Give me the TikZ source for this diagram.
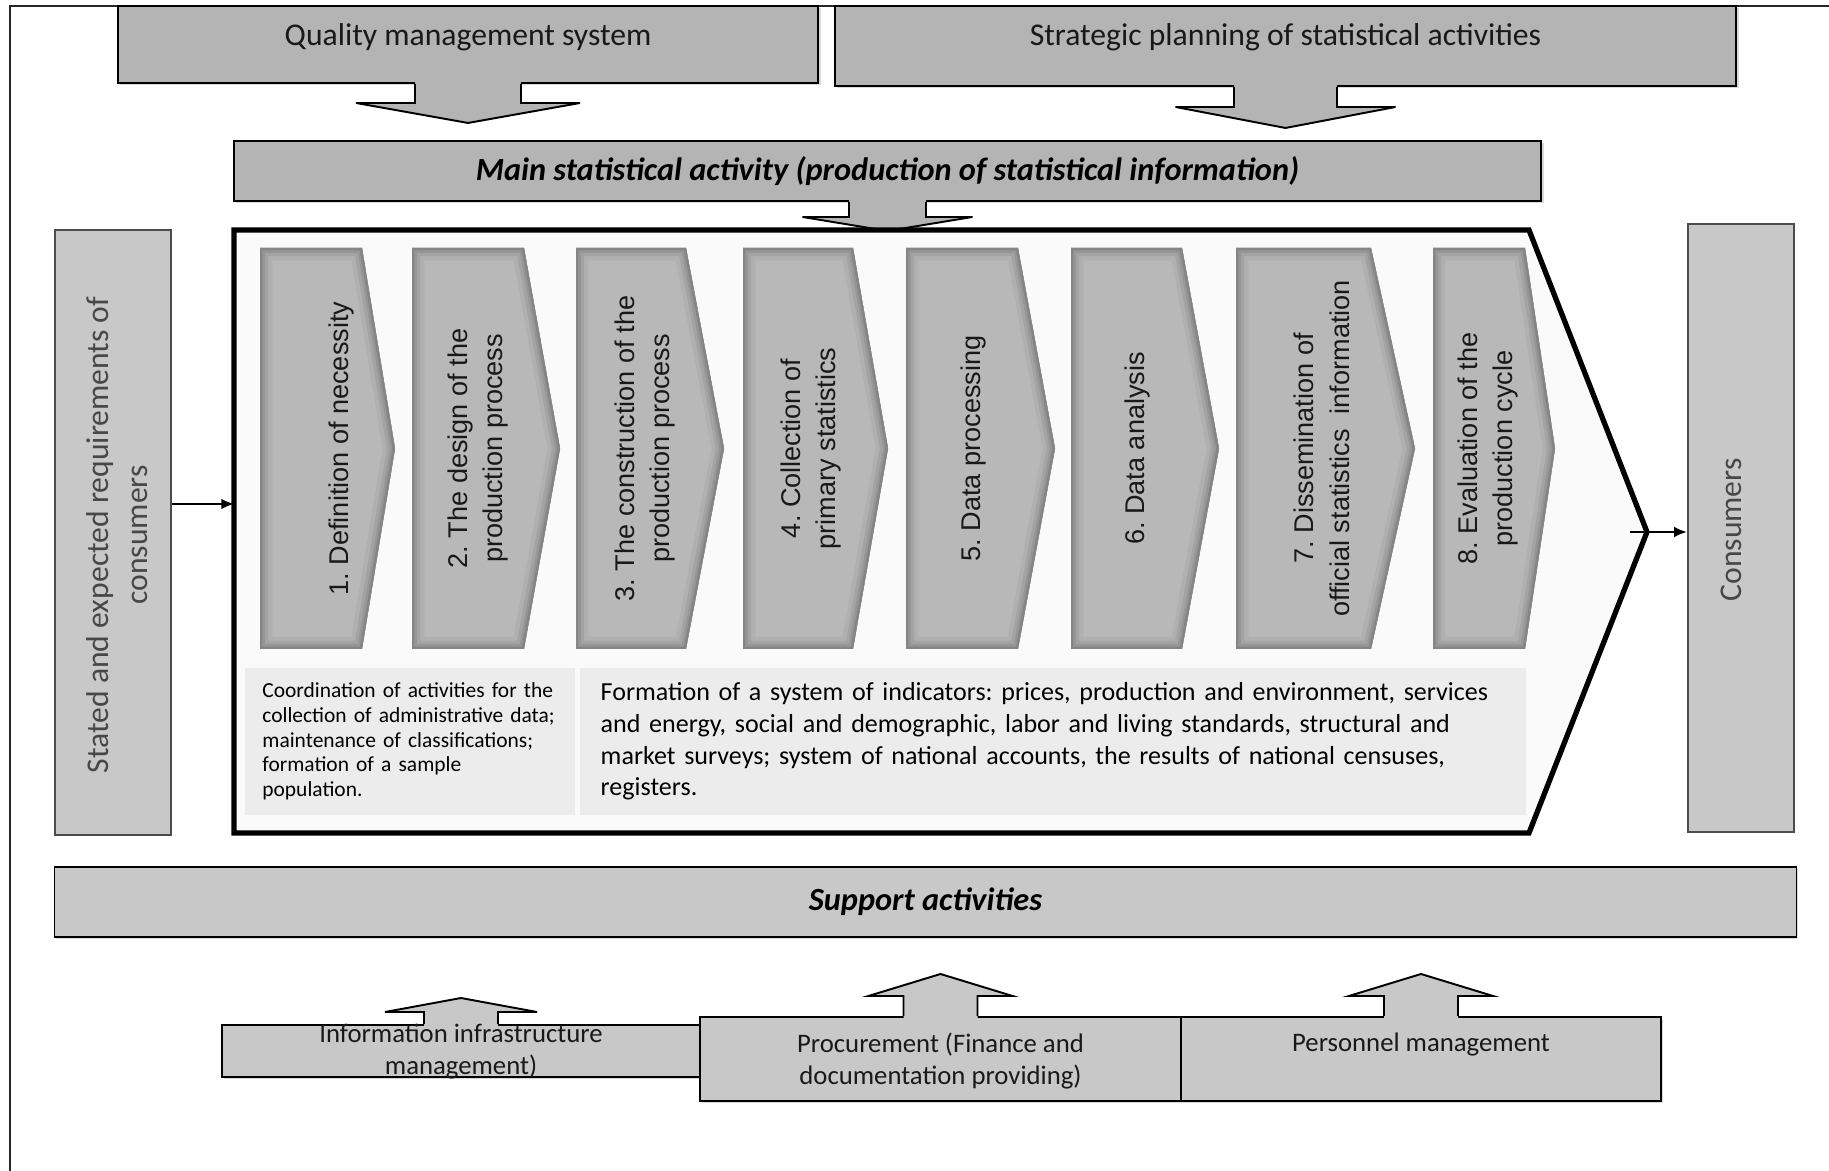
\documentclass[tikz,border=0pt]{standalone}
\usepackage{fontspec}
\setmainfont{Carlito}
\newfontfamily\stepfont{Liberation Sans}
\usetikzlibrary{arrows.meta,shadows}
\frenchspacing

\definecolor{topgray}{HTML}{B4B4B4}
\definecolor{boxgray}{HTML}{C8C8C8}
\definecolor{panel}{HTML}{FAFAFA}
\definecolor{notegray}{HTML}{ECECEC}

\begin{document}
\begin{tikzpicture}[x=0.01cm, y=-0.01cm, >={Latex[length=3.6pt,width=3pt]},
    topbox/.style={draw=black, line width=0.55pt, fill=topgray, inner sep=0pt,
        drop shadow={shadow xshift=0.7pt, shadow yshift=-0.7pt, opacity=0.3}},
    sidebox/.style={draw=black!70, line width=0.65pt, fill=boxgray, inner sep=0pt},
    lowbox/.style={draw=black, line width=0.55pt, fill=boxgray, inner sep=0pt,
        drop shadow={shadow xshift=0.5pt, shadow yshift=-0.6pt, opacity=0.3}},
    notebox/.style={fill=notegray, inner ysep=0pt, align=left},
    ttl/.style={font=\fontsize{9}{11}\selectfont, text=black!90},
    sidetxt/.style={rotate=90, align=center, font=\fontsize{9}{11}\selectfont, text=black!72},
    lowtxt/.style={align=center, font=\fontsize{7.6}{9.1}\selectfont, text=black!90},
    steplbl/.style={rotate=90, align=center, font=\stepfont\fontsize{7.7}{10.2}\selectfont, text=black!90}]

    \useasboundingbox (0,0) rectangle (1829,1171);
    \draw[line width=0.6pt, black!85] (10,1171) -- (10,6) -- (1829,6);

    \node[topbox, minimum width=7cm, minimum height=0.77cm] (quality) at (468,44.5) {};
    \node[ttl] (qualitytxt) at (468,37) {Quality management system};
    \node[topbox, minimum width=9.01cm, minimum height=0.8cm] (strategic) at (1285.5,46) {};
    \node[ttl] (strategictxt) at (1285.5,37) {Strategic planning of statistical activities};
    \node[topbox, minimum width=13.07cm, minimum height=0.6cm,
        font=\bfseries\itshape\fontsize{9.2}{11}\selectfont] (main) at (887.5,171)
        {Main statistical activity (production of statistical information)};

    \node[sidebox, minimum width=1.16cm, minimum height=6.05cm] (reqs) at (113,532.5) {};
    \node[sidetxt] (reqstxt) at (117,535) {Stated and expected requirements of\\consumers};
    \node[sidebox, minimum width=1.06cm, minimum height=6.08cm] (consumers) at (1741,528) {};
    \node[sidetxt] (consumerstxt) at (1731,530) {Consumers};

    \node[lowbox, minimum width=17.41cm, minimum height=0.7cm,
        font=\bfseries\itshape\fontsize{9.2}{11}\selectfont] (support) at (925.5,902) {Support activities};
    \node[lowbox, minimum width=4.78cm, minimum height=0.52cm] (infra) at (461,1051) {};
    \node[lowbox, minimum width=4.81cm, minimum height=0.84cm] (procure) at (940.5,1059) {};
    \node[lowbox, minimum width=4.80cm, minimum height=0.84cm] (personnel) at (1421,1059) {};

    % block arrows
    \foreach \an/\stw/\stl/\hdw/\hdl/\d/\col in {quality.south/53/19/112/20/1/topgray,
        strategic.south/51.5/20/110/21/1/topgray, main.south/38.5/15/85/14/1/topgray,
        infra.north/37/12/76/14/-1/boxgray, procure.north/37/20/72/22/-1/boxgray,
        personnel.north/37/20/72/22/-1/boxgray} {
        \fill[\col] ([shift={({-(\stw)},{-(\d)*2})}]\an) -- ++(0,{(\d)*(\stl+2)}) -- ++({\stw-\hdw},0)
            -- ++(\hdw,{(\d)*\hdl}) -- ++(\hdw,{-(\d)*\hdl}) -- ++({\stw-\hdw},0) -- ++(0,{-(\d)*(\stl+2)}) -- cycle;
        \draw[line width=0.55pt] ([shift={({-(\stw)},0)}]\an) -- ++(0,{(\d)*\stl}) -- ++({\stw-\hdw},0)
            -- ++(\hdw,{(\d)*\hdl}) -- ++(\hdw,{-(\d)*\hdl}) -- ++({\stw-\hdw},0) -- ++(0,{-(\d)*\stl});
    }

    \draw[line width=1.5pt, fill=panel] (234,230) -- (1529,230) -- (1647,532) -- (1529,833) -- (234,833) -- cycle;
    \coordinate (apex) at (1647,532);
    \coordinate (inlet) at (234,504);

    \foreach \xa/\xb/\xc/\xt/\lbl [count=\i] in {260/362/395/341/{1. Definition of necessity},
        412/524/560/478/{2. The design of the\\production process},
        576/686/724/645/{3. The construction of the\\production process},
        743/853/888/811/{4. Collection of\\primary statistics},
        906/1018/1055/973/{5. Data processing},
        1071/1182/1219/1137/{6. Data analysis},
        1236/1371/1415/1322/{7. Dissemination of\\official statistics\ \ information},
        1433/1525/1555/1488/{8. Evaluation of the\\production cycle}} {
        \begin{scope}
            \clip (\xa,248) -- (\xb,248) -- (\xc,448.5) -- (\xb,649) -- (\xa,649) -- cycle;
            \fill[black!28] (\xa,248) rectangle (\xc,649);
            \foreach \lw/\sh in {7/31, 4.6/36, 2.8/41, 1.4/48}
                \draw[line width=\lw pt, black!\sh] (\xa,248) -- (\xb,248) -- (\xc,448.5) -- (\xb,649) -- (\xa,649) -- cycle;
        \end{scope}
        \node[steplbl] (step\i) at (\xt,448.5) {\lbl};
    }

    \node[notebox, minimum height=1.47cm, text width=2.95cm, inner xsep=0.175cm,
        font=\fontsize{6.1}{7}\selectfont] (coord) at (410,741.5)
        {Coordination of activities for the\\collection of administrative data;\\maintenance of classifications;\\formation of a sample\\population.};
    \node[notebox, minimum height=1.47cm, text width=9.04cm, inner xsep=0.21cm,
        font=\fontsize{7.4}{9}\selectfont] (indicators) at (1053,741.5)
        {Formation of a system of indicators: prices, production and environment, services\\and energy, social and demographic, labor and living standards, structural and\\market surveys; system of national accounts, the results of national censuses,\\registers.};

    \draw[->, line width=0.5pt] (reqs.east |- inlet) -- (inlet);
    \draw[->, line width=0.5pt] ([xshift=-0.17cm]apex) -- (consumers.west |- apex);

    \node[lowtxt] (infratxt) at (461,1052) {Information infrastructure\\management)};
    \node[lowtxt] (procuretxt) at (940.5,1061) {Procurement (Finance and\\documentation providing)};
    \node[lowtxt] (personneltxt) at (1421,1045) {Personnel management};

\end{tikzpicture}
\end{document}
